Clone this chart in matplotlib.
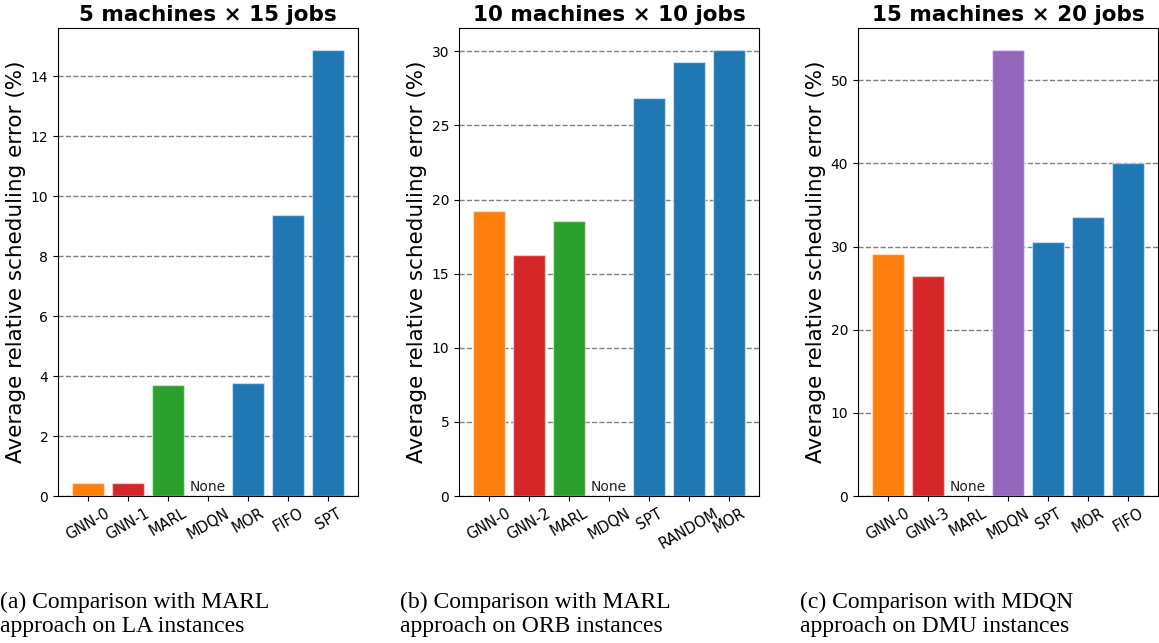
import matplotlib
matplotlib.use("Agg")
import matplotlib.pyplot as plt
import matplotlib.transforms as mtransforms

plt.rcParams['font.family'] = ['DejaVu Sans']

# ---- data ----
titles = ["5 machines \u00d7 15 jobs", "10 machines \u00d7 10 jobs", "15 machines \u00d7 20 jobs"]
captions = ["(a) Comparison with MARL\napproach on LA instances",
            "(b) Comparison with MARL\napproach on ORB instances",
            "(c) Comparison with MDQN\napproach on DMU instances"]

labels_a = ["GNN-0", "GNN-1", "MARL", "MDQN", "MOR", "FIFO", "SPT"]
values_a = [0.43, 0.43, 3.70, None, 3.77, 9.37, 14.87]
colors_a = ["#ff7f0e", "#d62728", "#2ca02c", "#9467bd", "#1f77b4", "#1f77b4", "#1f77b4"]

labels_b = ["GNN-0", "GNN-2", "MARL", "MDQN", "SPT", "RANDOM", "MOR"]
values_b = [19.22, 16.25, 18.55, None, 26.88, 29.26, 30.07]
colors_b = ["#ff7f0e", "#d62728", "#2ca02c", "#9467bd", "#1f77b4", "#1f77b4", "#1f77b4"]

labels_c = ["GNN-0", "GNN-3", "MARL", "MDQN", "SPT", "MOR", "FIFO"]
values_c = [29.1, 26.44, None, 53.6, 30.5, 33.5, 40.05]
colors_c = ["#ff7f0e", "#d62728", "#2ca02c", "#9467bd", "#1f77b4", "#1f77b4", "#1f77b4"]

panels = [(labels_a, values_a, colors_a),
          (labels_b, values_b, colors_b),
          (labels_c, values_c, colors_c)]

W, H = 1159, 643
fig = plt.figure(figsize=(W / 100, H / 100), dpi=100)

lefts = [58, 459, 858]
ax_w, ax_top, ax_bot = 300, 28, 496
cap_x = [0, 400, 800]

for i, (labs, vals, cols) in enumerate(panels):
    ax = fig.add_axes([lefts[i] / W, (H - ax_bot) / H, ax_w / W, (ax_bot - ax_top) / H])
    xs = list(range(len(labs)))
    hv = [v if v is not None else 0 for v in vals]
    ax.bar(xs, hv, width=0.8, color=cols, edgecolor=(1, 1, 1, 0.5), linewidth=1.0, zorder=3)
    trans = mtransforms.blended_transform_factory(ax.transData, ax.transAxes)
    for x, v in zip(xs, vals):
        if v is None:
            ax.text(x, 0.004, "None", transform=trans, ha="center", va="bottom",
                    fontsize=10, color="#222222", zorder=4)
    ax.set_xticks(xs)
    ax.set_xticklabels(labs, rotation=30, fontsize=10.5)
    ax.tick_params(axis="y", labelsize=10)
    ax.yaxis.grid(True, linestyle="--", color="gray", linewidth=1, zorder=0)
    ax.set_axisbelow(True)
    ax.set_ylabel("Average relative scheduling error (%)", fontsize=15.5, labelpad=3)
    ax.set_title(titles[i], fontsize=15.5, fontweight="bold", pad=5)
    fig.text(cap_x[i] / W, 1 - 592 / H, captions[i], ha="left", va="top",
             fontsize=17, family="Liberation Serif", linespacing=1.15)

fig.savefig("out.png", dpi=100)
